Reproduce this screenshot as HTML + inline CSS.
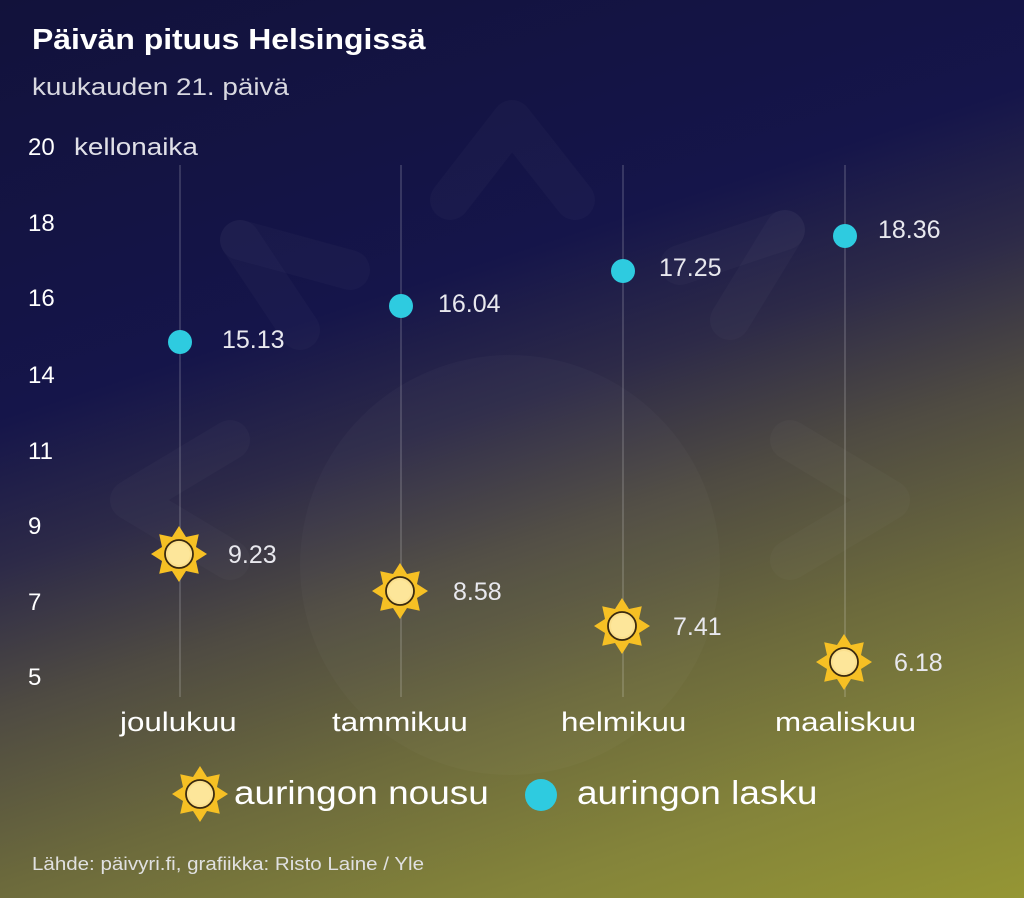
<!DOCTYPE html>
<html><head><meta charset="utf-8"><style>
body{margin:0;width:1024px;height:898px;overflow:hidden;font-family:"Liberation Sans","DejaVu Sans",sans-serif;}
.bg{position:absolute;left:0;top:0;width:1024px;height:898px;background:linear-gradient(162deg,#12123b 0%,#15154a 34%,#2d2a48 46%,#4f4b42 58%,#6c6a3c 72%,#84843a 86%,#959634 100%);}
.t{position:absolute;color:#fff;white-space:nowrap;transform-origin:0 0;}
.w{transform:scaleX(1.16);}
</style></head><body>
<div class="bg"></div>
<svg width="1024" height="898" style="position:absolute;left:0;top:0">
<defs>
<g id="sun">
<polygon fill="#f6c024" points="0,-28 7,-17 19.8,-19.8 17,-7 28,0 17,7 19.8,19.8 7,17 0,28 -7,17 -19.8,19.8 -17,7 -28,0 -17,-7 -19.8,-19.8 -7,-17"/>
<circle r="16" fill="#f6c024"/>
<circle r="14" fill="#fbe08e" stroke="#3a2a10" stroke-width="1.8"/>
<circle r="11" fill="#fde69a"/>
</g>
</defs>
<g fill="none" stroke="rgba(255,255,255,0.025)" stroke-width="40" stroke-linecap="round" stroke-linejoin="round">
<circle cx="510" cy="565" r="210" fill="rgba(255,255,255,0.025)" stroke="none"/>
<polyline points="450,200 512,120 575,200"/>
<polyline points="240,240 300,330"/><polyline points="240,240 350,270"/>
<polyline points="785,230 730,320"/><polyline points="785,230 680,265"/>
<polyline points="230,440 130,500 230,560"/>
<polyline points="790,440 890,500 790,560"/>
</g>
<g stroke="rgba(255,255,255,0.2)" stroke-width="1.5">
<line x1="180" y1="165" x2="180" y2="697"/><line x1="401" y1="165" x2="401" y2="697"/>
<line x1="623" y1="165" x2="623" y2="697"/><line x1="845" y1="165" x2="845" y2="697"/>
</g>
<g fill="#2ecbe0">
<circle cx="180" cy="342" r="12"/><circle cx="401" cy="306" r="12"/>
<circle cx="623" cy="271" r="12"/><circle cx="845" cy="236" r="12"/>
<circle cx="541" cy="795" r="16"/>
</g>
<use href="#sun" x="179" y="554"/><use href="#sun" x="400" y="591"/>
<use href="#sun" x="622" y="626"/><use href="#sun" x="844" y="662"/>
<use href="#sun" x="200" y="794"/>
</svg>
<div class="t" style="left:32px;top:24px;font-size:29px;font-weight:bold;transform:scaleX(1.1)">Päivän pituus Helsingissä</div>
<div class="t w" style="left:32px;top:74px;font-size:24px;color:#d8d8e0">kuukauden 21. päivä</div>
<div class="t" style="left:28px;top:134px;font-size:24px">20</div>
<div class="t w" style="left:74px;top:134px;font-size:24px;color:#e0e0e8">kellonaika</div>
<div class="t" style="left:28px;top:210px;font-size:24px">18</div>
<div class="t" style="left:28px;top:285px;font-size:24px">16</div>
<div class="t" style="left:28px;top:362px;font-size:24px">14</div>
<div class="t" style="left:28px;top:438px;font-size:24px">11</div>
<div class="t" style="left:28px;top:513px;font-size:24px">9</div>
<div class="t" style="left:28px;top:589px;font-size:24px">7</div>
<div class="t" style="left:28px;top:664px;font-size:24px">5</div>
<div class="t" style="left:222px;top:326px;font-size:25px;color:#e8e8ee">15.13</div>
<div class="t" style="left:438px;top:290px;font-size:25px;color:#e8e8ee">16.04</div>
<div class="t" style="left:659px;top:254px;font-size:25px;color:#e8e8ee">17.25</div>
<div class="t" style="left:878px;top:216px;font-size:25px;color:#e8e8ee">18.36</div>
<div class="t" style="left:228px;top:541px;font-size:25px;color:#e8e8ee">9.23</div>
<div class="t" style="left:453px;top:578px;font-size:25px;color:#e8e8ee">8.58</div>
<div class="t" style="left:673px;top:613px;font-size:25px;color:#e8e8ee">7.41</div>
<div class="t" style="left:894px;top:649px;font-size:25px;color:#e8e8ee">6.18</div>
<div class="t w" style="left:120px;top:707px;font-size:27px">joulukuu</div>
<div class="t w" style="left:332px;top:707px;font-size:27px">tammikuu</div>
<div class="t w" style="left:561px;top:707px;font-size:27px">helmikuu</div>
<div class="t w" style="left:775px;top:707px;font-size:27px">maaliskuu</div>
<div class="t" style="left:234px;top:774px;font-size:33px;transform:scaleX(1.12)">auringon nousu</div>
<div class="t" style="left:577px;top:774px;font-size:33px;transform:scaleX(1.12)">auringon lasku</div>
<div class="t" style="left:32px;top:854px;font-size:18px;color:#e0e0e0;transform:scaleX(1.14)">Lähde: päivyri.fi, grafiikka: Risto Laine / Yle</div>
</body></html>
